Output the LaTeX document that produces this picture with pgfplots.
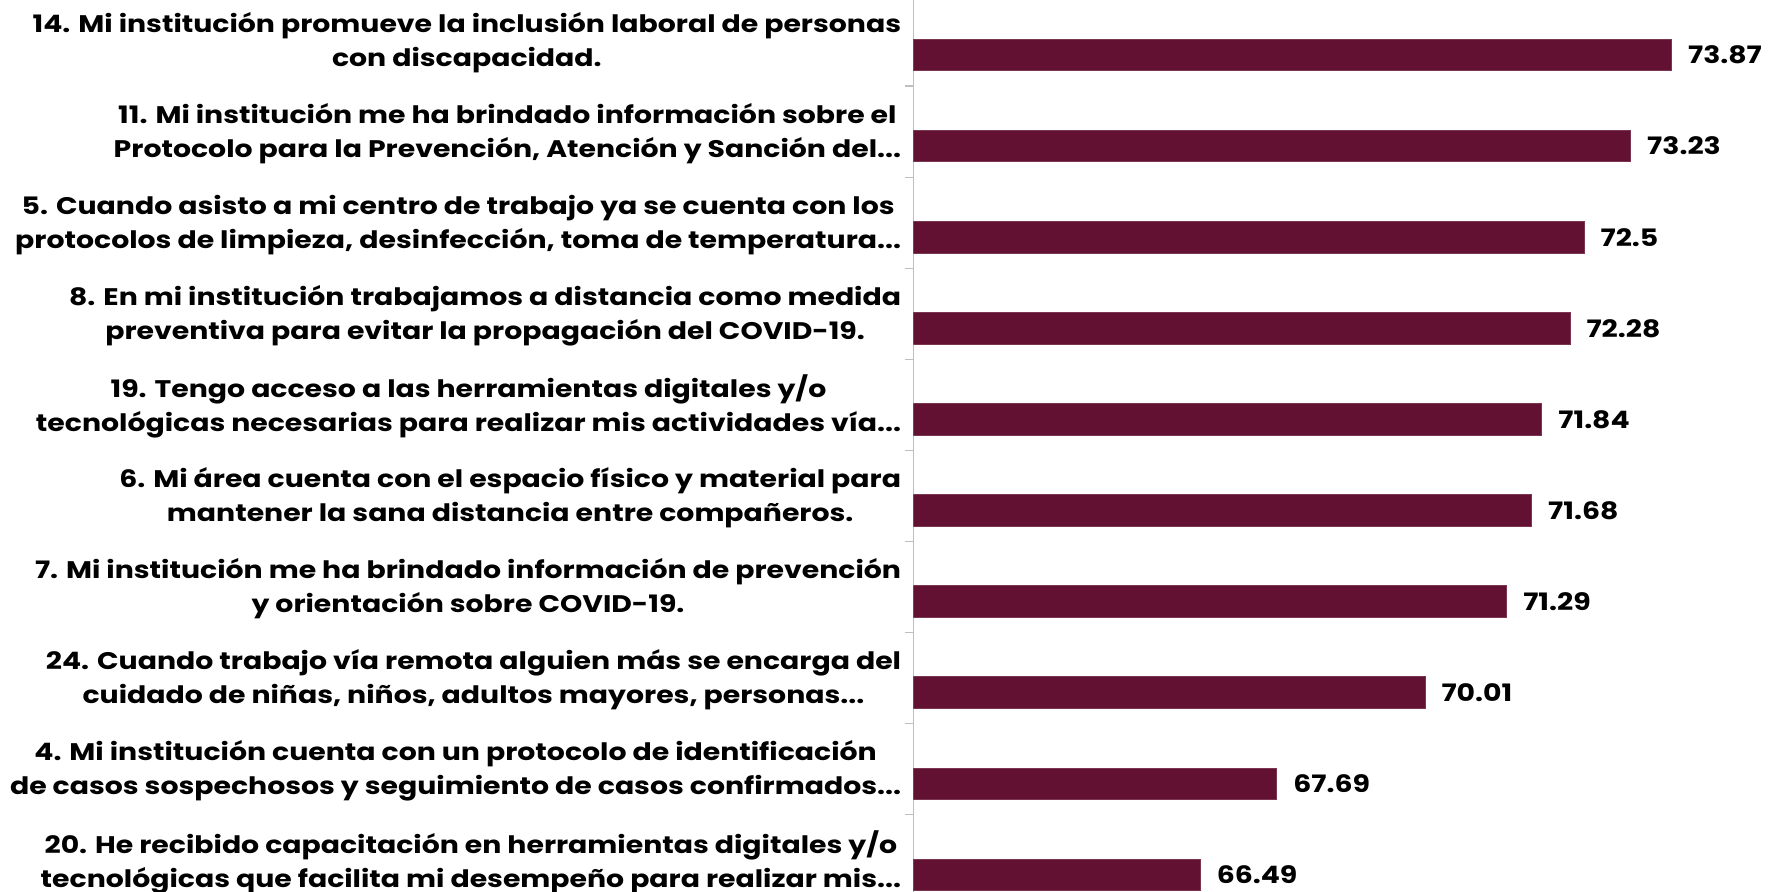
\documentclass[border=0pt]{standalone}
\usepackage{fontspec}
\setmainfont{Poppins}[FakeStretch=1.18]
\usepackage{pgfplots}
\pgfplotsset{compat=1.18}
\definecolor{barc}{HTML}{621132}
\definecolor{axisgray}{HTML}{BFBFBF}
\newcommand{\dts}{.\kern0pt.\kern0pt.}
\begin{document}
\begin{tikzpicture}
\begin{axis}[
  xbar, scale only axis, width=431.75pt, height=446pt,
  xmin=62, xmax=75.52, ymin=-0.604, ymax=9.187, y dir=reverse,
  axis x line=none, axis y line=left,
  y axis line style={-, draw=axisgray, line width=0.6pt},
  xtick=\empty,
  ytick={-0.16,0.84,1.84,2.84,3.84,4.84,5.84,6.84,7.84,8.84},
  minor ytick={0.34,1.34,2.34,3.34,4.34,5.34,6.34,7.34,8.34},
  major tick length=0pt, minor tick length=4pt, tick align=outside,
  minor tick style={draw=axisgray, line width=0.6pt},
  yticklabel style={anchor=east, align=center, inner sep=0pt, xshift=-6pt, yshift=-1pt,
    font=\fontsize{12pt}{17pt}\selectfont\bfseries},
  yticklabels={
    {14. Mi institución promueve la inclusión laboral de personas\\con discapacidad.},
    {11. Mi institución me ha brindado información sobre el\\Protocolo para la Prevención, Atención y Sanción del\dts},
    {5. Cuando asisto a mi centro de trabajo ya se cuenta con los\\protocolos de limpieza, desinfección, toma de temperatura\dts},
    {8. En mi institución trabajamos a distancia como medida\\preventiva para evitar la propagación del COVID-19.},
    {19. Tengo acceso a las herramientas digitales y/o\\tecnológicas necesarias para realizar mis actividades vía\dts},
    {6. Mi área cuenta con el espacio físico y material para\\mantener la sana distancia entre compañeros.},
    {7. Mi institución me ha brindado información de prevención\\y orientación sobre COVID-19.},
    {24. Cuando trabajo vía remota alguien más se encarga del\\cuidado de niñas, niños, adultos mayores, personas\dts},
    {4. Mi institución cuenta con un protocolo de identificación\\de casos sospechosos y seguimiento de casos confirmados\dts},
    {20. He recibido capacitación en herramientas digitales y/o\\tecnológicas que facilita mi desempeño para realizar mis\dts}
  },
  bar width=0.348,
  nodes near coords, nodes near coords align=horizontal,
  every node near coord/.append style={font=\fontsize{12pt}{15pt}\selectfont\bfseries,
    anchor=west, inner sep=0pt, xshift=8pt, text=black},
  /pgf/number format/.cd, fixed, precision=2, assume math mode=true,
]
\addplot[fill=barc, draw=barc!85!white, line width=0.5pt] coordinates {
  (73.87,0) (73.23,1) (72.5,2) (72.28,3) (71.84,4)
  (71.68,5) (71.29,6) (70.01,7) (67.69,8) (66.49,9)
};
\end{axis}
\pgfresetboundingbox
\path (current axis.south west) ++(-456.75pt,0pt) rectangle (current axis.north east);
\end{tikzpicture}
\end{document}
